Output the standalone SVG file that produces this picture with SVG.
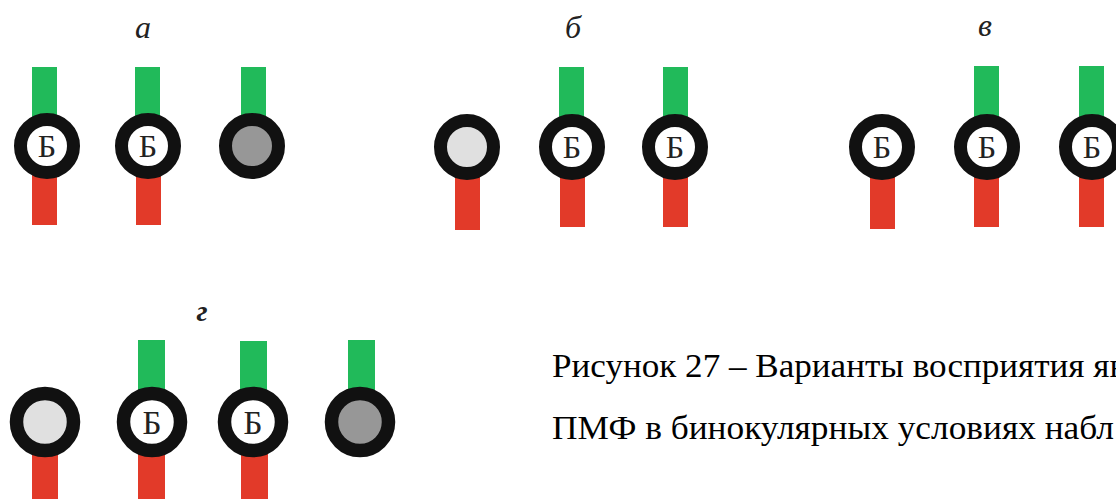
<svg xmlns="http://www.w3.org/2000/svg" width="1116" height="499" viewBox="0 0 1116 499">
<style>
.g{fill:#21ba5a}
.r{fill:#e23a29}
.ring{stroke:#111;stroke-width:13;fill:#fff}
.ring2{stroke:#111;stroke-width:13.5;fill:#fff}
.b{font-family:"Liberation Serif","Times New Roman","DejaVu Serif",serif;font-size:32px;fill:#222;text-anchor:middle}
.lbl{font-family:"Liberation Serif","Times New Roman","DejaVu Serif",serif;font-style:italic;font-size:32px;fill:#222;text-anchor:middle}
.cap{font-family:"Liberation Serif","Times New Roman","DejaVu Serif",serif;font-size:34px;fill:#000}
</style>
<rect width="1116" height="499" fill="#fff"/>
<g id="panel-a">
<text class="lbl" x="143" y="38">а</text>
<g id="a1"><rect class="g" x="32" y="67" width="25" height="79"/><rect class="r" x="32" y="146" width="25" height="79"/><circle class="ring" cx="47" cy="146" r="26.5"/><text class="b" x="47" y="157">Б</text></g>
<g id="a2"><rect class="g" x="135" y="67" width="25" height="79"/><rect class="r" x="136" y="146" width="25" height="79"/><circle class="ring" cx="148" cy="146" r="26.5"/><text class="b" x="148" y="157">Б</text></g>
<g id="a3"><rect class="g" x="241" y="67" width="25" height="79"/><circle class="ring" cx="252" cy="146" r="26.5" style="fill:#979797"/></g>
</g>
<g id="panel-b">
<text class="lbl" x="573" y="38">б</text>
<g id="b1"><rect class="r" x="455" y="147" width="25" height="83"/><circle class="ring" cx="467" cy="147" r="26.5" style="fill:#e0e0e0"/></g>
<g id="b2"><rect class="g" x="559" y="67" width="25" height="80"/><rect class="r" x="560" y="147" width="25" height="80"/><circle class="ring" cx="572" cy="147" r="26.5"/><text class="b" x="572" y="158">Б</text></g>
<g id="b3"><rect class="g" x="663" y="67" width="25" height="80"/><rect class="r" x="663" y="147" width="25" height="80"/><circle class="ring" cx="675" cy="147" r="26.5"/><text class="b" x="675" y="158">Б</text></g>
</g>
<g id="panel-c">
<text class="lbl" x="985" y="36">в</text>
<g id="c1"><rect class="r" x="870" y="147" width="25" height="82"/><circle class="ring" cx="882" cy="147" r="26.5"/><text class="b" x="882" y="158">Б</text></g>
<g id="c2"><rect class="g" x="974" y="66" width="25" height="81"/><rect class="r" x="974" y="147" width="25" height="80"/><circle class="ring" cx="987" cy="147" r="26.5"/><text class="b" x="987" y="158">Б</text></g>
<g id="c3"><rect class="g" x="1079" y="66" width="25" height="81"/><rect class="r" x="1079" y="147" width="25" height="80"/><circle class="ring" cx="1092" cy="147" r="26.5"/><text class="b" x="1092" y="158">Б</text></g>
</g>
<g id="panel-d">
<text class="lbl" x="202" y="321" style="font-weight:bold;font-size:30px">г</text>
<g id="d1"><rect class="r" x="32" y="422" width="26" height="77"/><circle class="ring2" cx="45" cy="422" r="28.5" style="fill:#e0e0e0"/></g>
<g id="d2"><rect class="g" x="138" y="340" width="27" height="82"/><rect class="r" x="138" y="422" width="27" height="77"/><circle class="ring2" cx="152" cy="422" r="28.5"/><text class="b" x="152" y="434" style="font-size:33px">Б</text></g>
<g id="d3"><rect class="g" x="240" y="341" width="27" height="81"/><rect class="r" x="241" y="422" width="27" height="77"/><circle class="ring2" cx="253" cy="422" r="28.5"/><text class="b" x="253" y="434" style="font-size:33px">Б</text></g>
<g id="d4"><rect class="g" x="348" y="340" width="27" height="82"/><circle class="ring2" cx="360" cy="422" r="28.5" style="fill:#979797"/></g>
</g>
<g id="caption">
<text class="cap" x="552" y="377" textLength="574" lengthAdjust="spacingAndGlyphs">Рисунок 27 – Варианты восприятия яв</text>
<text class="cap" x="552" y="439" textLength="562" lengthAdjust="spacingAndGlyphs">ПМФ в бинокулярных условиях набл</text>
</g>
</svg>
